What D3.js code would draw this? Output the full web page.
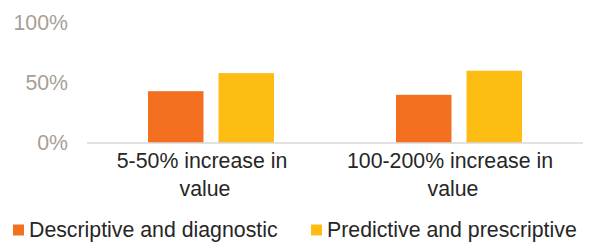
<!DOCTYPE html>
<html>
<head>
<meta charset="utf-8">
<script src="https://cdn.jsdelivr.net/npm/d3@7"></script>
<style>
  body { margin: 0; background: #fff; }
  text { font-family: "Liberation Sans", Arial, Helvetica, sans-serif; }
</style>
</head>
<body>
<div id="chart"></div>
<script>
// data
const categories = [["5-50% increase in", "value"], ["100-200% increase in", "value"]];
const seriesNames = ["Descriptive and diagnostic", "Predictive and prescriptive"];
const descriptive = [43, 40];
const predictive = [58, 60];
const yTicks = [0, 50, 100];
const colors = ["#f37021", "#fdbd12"];

const width = 590, height = 244;
const fontSize = 21.3;

const svg = d3.select("#chart")
  .append("svg")
  .attr("width", width)
  .attr("height", height);

const catKeys = categories.map(c => c.join(" "));
const x0 = d3.scaleBand().domain(catKeys).range([87, 583]).padding(0);
const x1 = d3.scaleBand().domain(seriesNames).range([-63, 63]).paddingInner(0.213).paddingOuter(0);
const y = d3.scaleLinear().domain([0, 100]).range([143, 22.5]);

const rows = catKeys.map((k, i) => ({ key: k, values: [descriptive[i], predictive[i]] }));

// bars
const groups = svg.selectAll(".group")
  .data(rows)
  .enter().append("g")
  .attr("transform", d => `translate(${x0(d.key) + x0.bandwidth() / 2},0)`);

groups.selectAll("rect")
  .data(d => d.values.map((v, i) => ({ name: seriesNames[i], value: v, i })))
  .enter().append("rect")
  .attr("x", d => x1(d.name))
  .attr("y", d => y(d.value))
  .attr("width", x1.bandwidth())
  .attr("height", d => y(0) - y(d.value))
  .attr("fill", d => colors[d.i]);

// baseline
svg.append("line")
  .attr("x1", x0.range()[0])
  .attr("x2", x0.range()[1])
  .attr("y1", y(0))
  .attr("y2", y(0))
  .attr("stroke", "#d9d9d9")
  .attr("stroke-width", 1.5);

// y tick labels
svg.selectAll(".ytick")
  .data(yTicks)
  .enter().append("text")
  .attr("x", 68)
  .attr("y", d => y(d))
  .attr("dy", "0.35em")
  .attr("text-anchor", "end")
  .attr("font-size", fontSize)
  .attr("fill", "#a99e95")
  .text(d => d + "%");

// category labels (first line keeps its trailing space, like Excel wrapping)
const catText = svg.selectAll(".cat")
  .data(categories)
  .enter().append("text")
  .attr("text-anchor", "middle")
  .attr("font-size", fontSize)
  .attr("fill", "#262626");

catText.selectAll("tspan")
  .data((d, i) => d.map((line, j) => ({ line, j, key: catKeys[i] })))
  .enter().append("tspan")
  .attr("x", d => x0(d.key) + x0.bandwidth() / 2 - 6 - (d.j === 0 ? 3 : 0))
  .attr("y", d => 168 + d.j * 28)
  .text(d => d.line);

// legend
const legendX = [13, 311];
seriesNames.forEach((name, i) => {
  svg.append("rect")
    .attr("x", legendX[i])
    .attr("y", 224.5)
    .attr("width", 11)
    .attr("height", 11)
    .attr("fill", colors[i]);
  svg.append("text")
    .attr("x", legendX[i] + 16)
    .attr("y", 237)
    .attr("font-size", fontSize)
    .attr("fill", "#262626")
    .text(name);
});
</script>
</body>
</html>
